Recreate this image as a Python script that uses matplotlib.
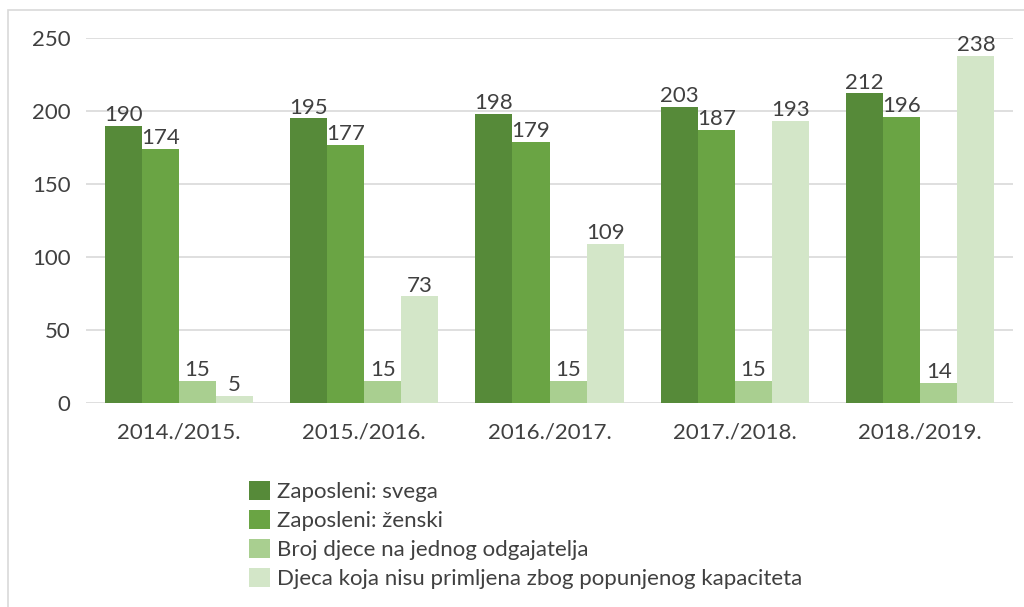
import matplotlib.pyplot as plt
import numpy as np
from matplotlib.patches import Rectangle

plt.rcParams['font.family'] = ['Lato', 'DejaVu Sans']

years = ["2014./2015.", "2015./2016.", "2016./2017.", "2017./2018.", "2018./2019."]
zaposleni_svega = [190, 195, 198, 203, 212]
zaposleni_zenski = [174, 177, 179, 187, 196]
djece_po_odgajatelju = [15, 15, 15, 15, 14]
neprimljena_djeca = [5, 73, 109, 193, 238]

series_names = [
    "Zaposleni: svega",
    "Zaposleni: ženski",
    "Broj djece na jednog odgajatelja",
    "Djeca koja nisu primljena zbog popunjenog kapaciteta",
]
series = [zaposleni_svega, zaposleni_zenski, djece_po_odgajatelju, neprimljena_djeca]
colors = ["#568A39", "#6AA444", "#A9CF90", "#D3E6C8"]
text_col = "#404040"

fig = plt.figure(figsize=(10.24, 6.07), dpi=100)
ax = fig.add_axes([86 / 1024, 1 - 403 / 607, (1013 - 86) / 1024, (403 - 38) / 607])

# outer chart border (only top and left visible in the reference)
fig.add_artist(Rectangle((8 / 1024, -0.05), 1.1, 1 - 10 / 607 + 0.05,
                         transform=fig.transFigure, fill=False,
                         edgecolor="#D9D9D9", linewidth=1.2))

x = np.arange(len(years))
w = 0.2
handles = []
for i, (vals, name, c) in enumerate(zip(series, series_names, colors)):
    pos = x - 0.3 + i * w
    b = ax.bar(pos, vals, width=w, color=c, label=name, zorder=3)
    handles.append(b)
    for p, v in zip(pos, vals):
        ax.text(p, v + 0.5, str(v), ha="center", va="bottom",
                fontsize=16, color=text_col, zorder=4)

ax.set_xlim(-0.5, len(years) - 0.5)
ax.set_ylim(0, 250)
ax.set_yticks(range(0, 251, 50))
ax.set_xticks(x)
ax.set_xticklabels(years)
ax.grid(axis="y", color="#D9D9D9", linewidth=1.2, zorder=0)
for s in ["top", "right", "left", "bottom"]:
    ax.spines[s].set_visible(False)
ax.tick_params(axis="both", length=0, labelsize=16, colors=text_col)
ax.tick_params(axis="y", pad=11)
ax.tick_params(axis="x", pad=14)

fig.legend(handles=handles, labels=series_names, loc="upper left",
           bbox_to_anchor=(229 / 1024, 1 - 461 / 607), frameon=False,
           fontsize=16, labelcolor=text_col, handlelength=0.95,
           handleheight=0.95, handletextpad=0.3, labelspacing=0.35)

fig.savefig("out.png", dpi=100)
